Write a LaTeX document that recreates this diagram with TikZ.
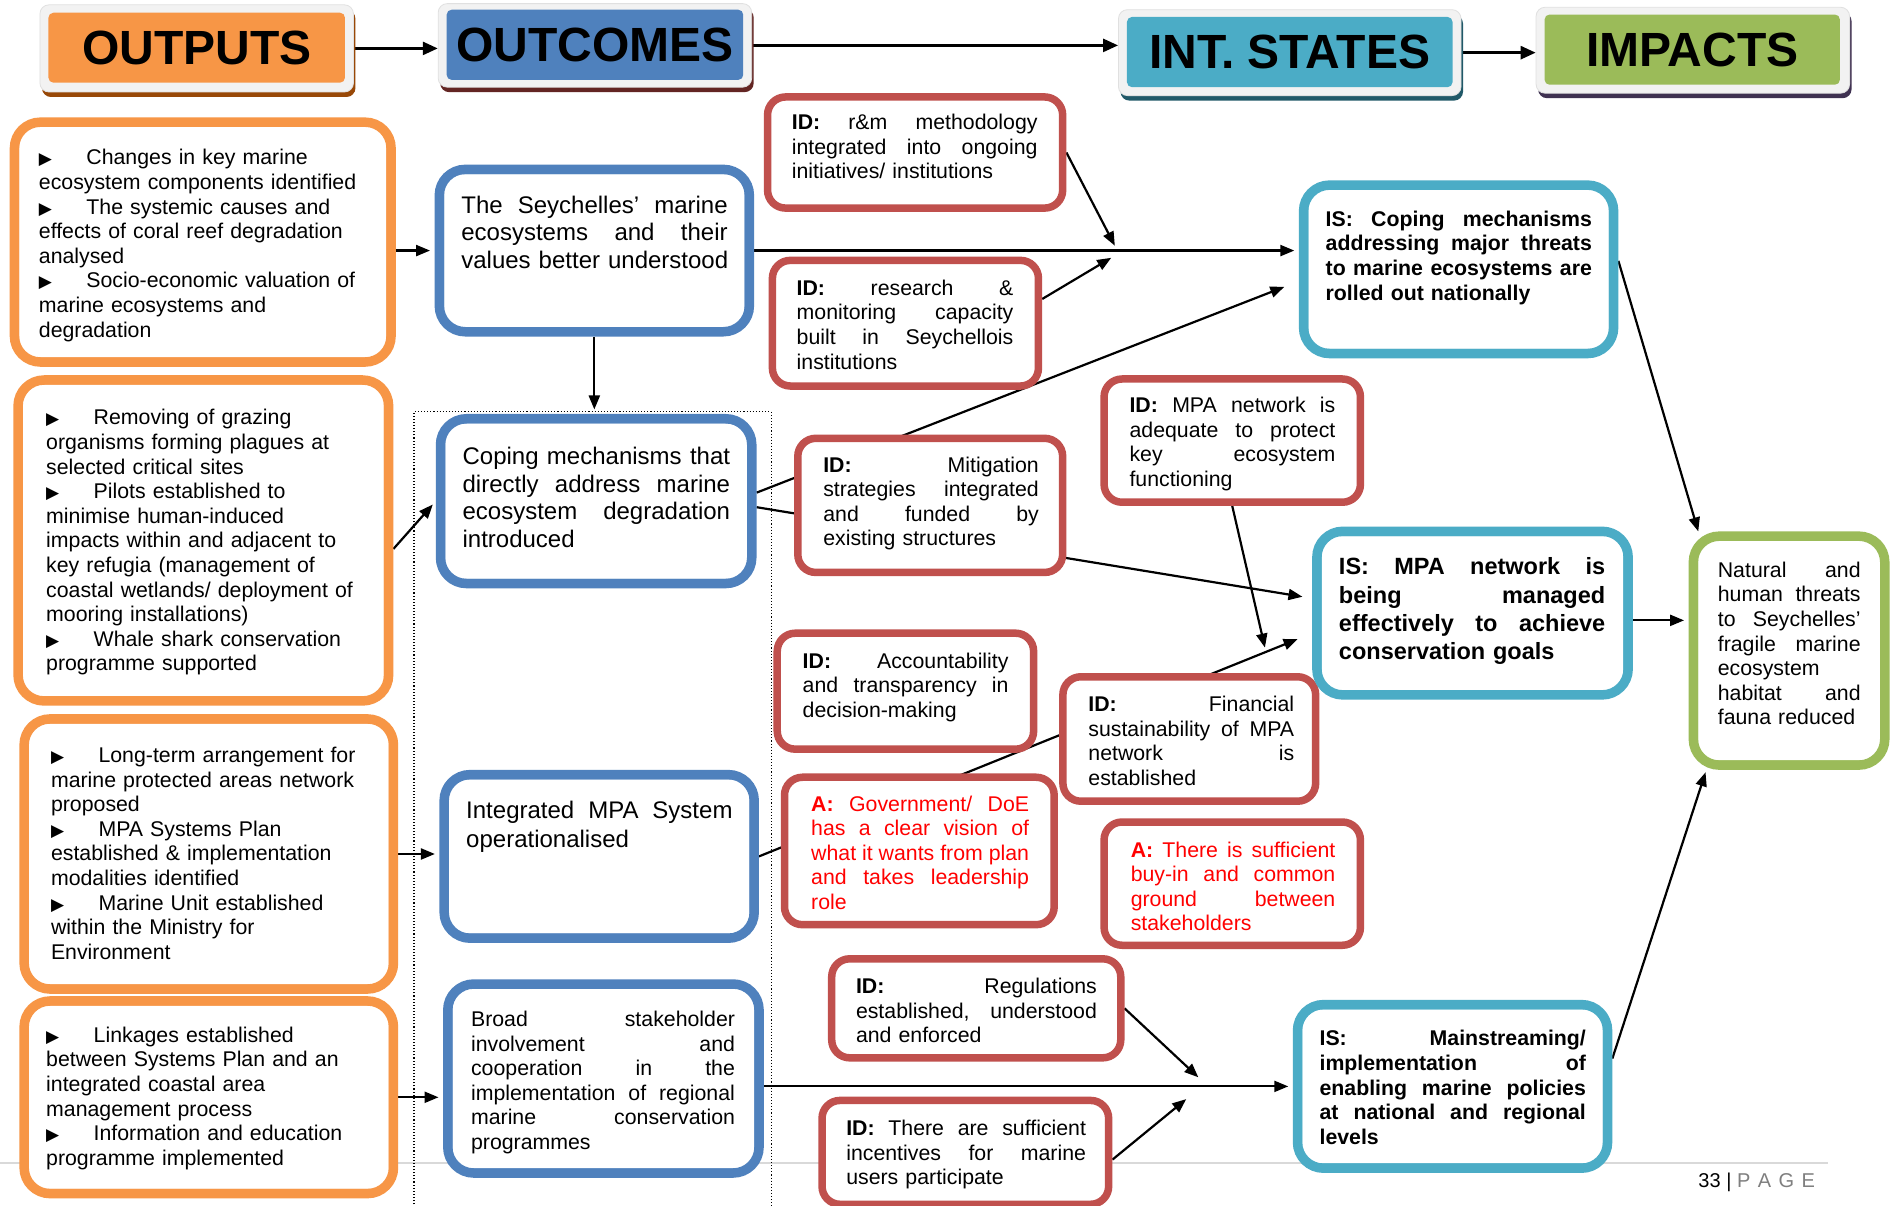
\documentclass[tikz,border=0pt]{standalone}
\usepackage{fontspec}
\setmainfont{Liberation Sans}
\newfontfamily\symf{DejaVu Sans}
\usetikzlibrary{arrows.meta,fit,calc,backgrounds,shadows}

\definecolor{orng}{HTML}{F79646}
\definecolor{orngdk}{HTML}{984807}
\definecolor{blu}{HTML}{4F81BD}
\definecolor{bludk}{HTML}{632523}
\definecolor{cyn}{HTML}{4BACC6}
\definecolor{cyndk}{HTML}{215968}
\definecolor{grn}{HTML}{9BBB59}
\definecolor{grndk}{HTML}{3F3151}
\definecolor{redb}{HTML}{C0504D}
\definecolor{redt}{HTML}{FF0000}
\definecolor{hframe}{HTML}{F2F2F2}
\definecolor{pagegrey}{HTML}{7F7F7F}
\definecolor{rulegrey}{HTML}{D9D9D9}

% one justified line of a box text (interword glue made stretchable again)
\newcommand\jline[1]{\makebox[\hsize][s]{\spaceskip=0pt\xspaceskip=0pt #1}}
% last (unjustified) line of a box text
\newcommand\eline[1]{\mbox{#1}}
% bullet followed by a tab stop
\newcommand\bulmark{\makebox[47.5pt][l]{\symf\fontsize{17}{17}\selectfont ▶}}
% thin inner line of a double-bordered box
\newcommand\innerring[2]{\draw[#2, line width=2.3pt, rounded corners=18pt]
  ([shift={(8.3pt,-8.3pt)}]#1.north west) rectangle ([shift={(-8.3pt,8.3pt)}]#1.south east);}

\tikzset{
  dbox/.style={draw=#1, line width=9.5pt, fill=white, rounded corners=26pt, inner sep=-4.75pt},
  rbox/.style={draw=redb, line width=7.5pt, fill=white, rounded corners=18pt, inner sep=-3.75pt},
  hfr/.style={fill=hframe, draw=black!12, line width=0.8pt, rounded corners=9pt, inner sep=0pt,
    drop shadow={shadow xshift=2pt, shadow yshift=-5pt, fill=#1, opacity=1}},
  hfill/.style={fill=#1, rounded corners=5pt, inner sep=0pt},
  htext/.style={inner sep=0pt, font=\bfseries\fontsize{48}{48}\selectfont},
  tx/.style={inner sep=0pt, anchor=base west, align=left, font=\fontsize{21.3}{24.6}\selectfont},
  txb/.style={tx, font=\bfseries\fontsize{21.3}{24.6}\selectfont},
  tbig/.style={tx, font=\fontsize{24}{27.5}\selectfont},
  arr/.style={line width=2.2pt, -{Triangle[length=14pt,width=11pt]}},
  harr/.style={line width=2.6pt, -{Triangle[length=15pt,width=13pt]}},
}

\begin{document}
\begin{tikzpicture}[x=1.2105pt, y=-1.2105pt]
\useasboundingbox (0,0) rectangle (1568,996);

% ---------- header bar ----------
\node[hfr=orngdk, fit={(33,4) (292,76)}] (HOf) {};
\node[hfill=orng, fit={(40,10.5) (285,68.3)}] (HO) {};
\node[htext] (HOt) at (HO.center) {OUTPUTS};
\node[hfr=bludk, fit={(362,3) (621,72)}] (HCf) {};
\node[hfill=blu, fit={(369,8) (614,66)}] (HC) {};
\node[htext] (HCt) at (HC.center) {OUTCOMES};
\node[hfr=cyndk, fit={(924,8) (1207,79)}] (HIf) {};
\node[hfill=cyn, fit={(931,14) (1200,72)}] (HI) {};
\node[htext] (HIt) at (HI.center) {INT. STATES};
\node[hfr=grndk, fit={(1269,6) (1528,77)}] (HMf) {};
\node[hfill=grn, fit={(1276,12) (1520,70)}] (HM) {};
\node[htext] (HMt) at (HM.center) {IMPACTS};

% ---------- outputs ----------
\node[dbox=orng, fit={(8,97) (327,303)}] (O1) {}; \innerring{O1}{orng}
\node[dbox=orng, fit={(11,310) (325,583)}] (O2) {}; \innerring{O2}{orng}
\node[dbox=orng, fit={(16,590) (329,821)}] (O3) {}; \innerring{O3}{orng}
\node[dbox=orng, fit={(16,823) (329,990)}] (O4) {}; \innerring{O4}{orng}

% ---------- outcomes ----------
\node[dbox=blu, fit={(359,136) (623,278)}] (B1) {}; \innerring{B1}{blu}
\node[dbox=blu, fit={(360,342) (625,486)}] (B2) {}; \innerring{B2}{blu}
\node[dbox=blu, fit={(363,636) (627,779)}] (B3) {}; \innerring{B3}{blu}
\node[dbox=blu, fit={(366,809) (631,973)}] (B4) {}; \innerring{B4}{blu}

% ---------- drivers and assumptions ----------
\node[rbox, fit={(631,77) (881,175)}] (R1) {};
\node[rbox, fit={(635,212) (861,322)}] (R2) {};
\node[rbox, fit={(656,359) (881,476)}] (R3) {};
\node[rbox, fit={(909,310) (1127,418)}] (R4) {};
\node[rbox, fit={(639,520) (857,622)}] (R5) {};
\node[rbox, fit={(875,556) (1090,665)}] (R6) {};
\node[rbox, fit={(645,639) (874,767)}] (R7) {};
\node[rbox, fit={(909,676) (1127,784)}] (R8) {};
\node[rbox, fit={(684,789) (929,877)}] (R9) {};
\node[rbox, fit={(676,906) (919,998)}] (R10) {};

% ---------- intermediate states ----------
\node[dbox=cyn, fit={(1073,149) (1337,296)}] (C1) {}; \innerring{C1}{cyn}
\node[dbox=cyn, fit={(1084,435) (1349,578)}] (C2) {}; \innerring{C2}{cyn}
\node[dbox=cyn, fit={(1068,826) (1332,969)}] (C3) {}; \innerring{C3}{cyn}

% ---------- impact ----------
\node[dbox=grn, fit={(1395,439) (1561,636)}] (G1) {}; \innerring{G1}{grn}

% ---------- texts ----------
\node[tx, text width=345pt] (O1t) at (32,136.3) {\bulmark Changes in key marine\\
ecosystem components identified\\
\bulmark The systemic causes and\\
effects of coral reef degradation\\
analysed\\
\bulmark Socio-economic valuation of\\
marine ecosystems and\\
degradation};

\node[tx, text width=345pt] (O2t) at (38,351) {\bulmark Removing of grazing\\
organisms forming plagues at\\
selected critical sites\\
\bulmark Pilots established to\\
minimise human-induced\\
impacts within and adjacent to\\
key refugia (management of\\
coastal wetlands/ deployment of\\
mooring installations)\\
\bulmark Whale shark conservation\\
programme supported};

\node[tx, text width=345pt] (O3t) at (42,630) {\bulmark Long-term arrangement for\\
marine protected areas network\\
proposed\\
\bulmark MPA Systems Plan\\
established \& implementation\\
modalities identified\\
\bulmark Marine Unit established\\
within the Ministry for\\
Environment};

\node[tx, text width=345pt] (O4t) at (38,861) {\bulmark Linkages established\\
between Systems Plan and an\\
integrated coastal area\\
management process\\
\bulmark Information and education\\
programme implemented};

\node[tbig, text width=266.3pt] (B1t) at (381,176) {\jline{The Seychelles’ marine}\\
\jline{ecosystems and their}\\ \eline{values better understood}};
\node[tbig, text width=267.5pt] (B2t) at (382,384) {\jline{Coping mechanisms that}\\
\jline{directly address marine}\\ \jline{ecosystem degradation}\\ \eline{introduced}};
\node[tbig, font=\fontsize{24}{29}\selectfont, text width=266.3pt] (B3t) at (385,676)
  {\jline{Integrated MPA System}\\ \eline{operationalised}};
\node[tx, text width=263.9pt] (B4t) at (389,848) {\jline{Broad stakeholder}\\
\jline{involvement and}\\ \jline{cooperation in the}\\ \jline{implementation of regional}\\
\jline{marine conservation}\\ \eline{programmes}};

\node[tx, text width=245.7pt] (R1t) at (654,107) {\jline{\textbf{ID:} r\&m methodology}\\
\jline{integrated into ongoing}\\ \eline{initiatives/ institutions}};
\node[tx, text width=216.7pt] (R2t) at (658,244) {\jline{\textbf{ID:} research \&}\\
\jline{monitoring capacity}\\ \jline{built in Seychellois}\\ \eline{institutions}};
\node[tx, text width=215.5pt] (R3t) at (680,390) {\jline{\textbf{ID:} Mitigation}\\
\jline{strategies integrated}\\ \jline{and funded by}\\ \eline{existing structures}};
\node[tx, text width=205.8pt] (R4t) at (933,341) {\jline{\textbf{ID:} MPA network is}\\
\jline{adequate to protect}\\ \jline{key ecosystem}\\ \eline{functioning}};
\node[tx, text width=205.8pt] (R5t) at (663,552) {\jline{\textbf{ID:} Accountability}\\
\jline{and transparency in}\\ \eline{decision-making}};
\node[tx, text width=205.8pt] (R6t) at (899,588) {\jline{\textbf{ID:} Financial}\\
\jline{sustainability of MPA}\\ \jline{network is}\\ \eline{established}};
\node[tx, text width=217.9pt, text=redt] (R7t) at (670,670) {\jline{\textbf{A:} Government/ DoE}\\
\jline{has a clear vision of}\\ \jline{what it wants from plan}\\ \jline{and takes leadership}\\ \eline{role}};
\node[tx, text width=204.6pt, text=redt] (R8t) at (934,708) {\jline{\textbf{A:} There is sufficient}\\
\jline{buy-in and common}\\ \jline{ground between}\\ \eline{stakeholders}};
\node[tx, text width=240.9pt] (R9t) at (707,821) {\jline{\textbf{ID:} Regulations}\\
\jline{established, understood}\\ \eline{and enforced}};
\node[tx, text width=239.7pt] (R10t) at (699,938) {\jline{\textbf{ID:} There are sufficient}\\
\jline{incentives for marine}\\ \eline{users participate}};

\node[txb, text width=266.3pt] (C1t) at (1095,187) {\jline{IS: Coping mechanisms}\\
\jline{addressing major threats}\\ \jline{to marine ecosystems are}\\ \eline{rolled out nationally}};
\node[txb, font=\bfseries\fontsize{23.5}{28.2}\selectfont, text width=266.3pt] (C2t) at (1106,475)
  {\jline{IS: MPA network is}\\ \jline{being managed}\\ \jline{effectively to achieve}\\ \eline{conservation goals}};
\node[txb, text width=266.3pt] (C3t) at (1090,864) {\jline{IS: Mainstreaming/}\\
\jline{implementation of}\\ \jline{enabling marine policies}\\ \jline{at national and regional}\\ \eline{levels}};

\node[tx, text width=142.8pt] (G1t) at (1419,477) {\jline{Natural and}\\ \jline{human threats}\\
\jline{to Seychelles’}\\ \jline{fragile marine}\\ \eline{ecosystem}\\ \jline{habitat and}\\ \eline{fauna reduced}};

% ---------- page footer ----------
\node[tx, font=\fontsize{20}{20}\selectfont] (pg) at (1403,981.4)
  {33 | \textcolor{pagegrey}{\makebox[78pt][s]{\spaceskip=0pt P A G E}}};

% ---------- connectors, behind the boxes ----------
\begin{pgfonlayer}{background}
\fill[white] (0,0) rectangle (1568,996);
\coordinate (rl) at (0,961);
\coordinate (rr) at (1510,961);
\draw[rulegrey, line width=2pt] (rl) -- (rr);

\coordinate (d1) at (342,1000);
\coordinate (d2) at (342,340);
\coordinate (d3) at (637,340);
\coordinate (d4) at (637,1000);
\draw[dotted, line width=1.1pt] (d1) -- (d2) -- (d3) -- (d4);

\draw[harr] (HOf.east) -- (HOf.east -| HCf.west);
\draw[harr] (HCf.east) -- (HCf.east -| HIf.west);
\draw[harr] (HIf.east) -- (HIf.east -| HMf.west);

\draw[arr, shorten >=4.5pt] (B1.west -| O1.east) -- (B1.west);
\draw[arr, shorten >=4.5pt] ($(O2.east)+(0,7)$) -- (B2.west);
\draw[arr, shorten >=4.5pt] (O3.east) -- (O3.east -| B3.west);
\draw[arr, shorten >=4.5pt] (O4.east) -- (O4.east -| B4.west);
\draw[arr, shorten >=4.5pt] (B1.south) -- (B1.south |- B2.north);
\draw[arr, shorten >=4.5pt] (B1.east) -- (B1.east -| C1.west);

\coordinate (k1) at (921,203);
\coordinate (k2) at (918,213);
\draw[arr] (R1.east) -- (k1);
\draw[arr] ($(R2.east)+(0,-20)$) -- (k2);
\draw[arr] ($(B2.east)+(0,-7)$) -- ($(C1.west)+(-12,14.5)$);
\draw[arr] ($(B2.east)+(0,5)$) -- ($(C2.west)+(-8,-13.5)$);
\coordinate (k4) at (1045,535);
\draw[arr] (R4.south) -- (k4);
\draw[arr] (B3.east) -- ($(C2.west)+(-12,21.5)$);
\draw[arr, shorten >=4.5pt] (C3.west -| B4.east) -- (C3.west);
\coordinate (k9) at (990,890);
\coordinate (k10) at (980,908);
\draw[arr] (R9.east) -- (k9);
\draw[arr] ($(R10.east)+(0,6)$) -- (k10);

\draw[arr] ($(C1.east)+(0,-7)$) -- ($(G1.north west)+(8,0)$);
\draw[arr, shorten >=4.5pt] ($(C2.east)+(0,6)$) -- ($(C2.east -| G1.west)+(0,6)$);
\draw[arr] ($(C3.east)+(0,-23)$) -- ($(G1.south west)+(14,2)$);
\end{pgfonlayer}
\end{tikzpicture}
\end{document}
